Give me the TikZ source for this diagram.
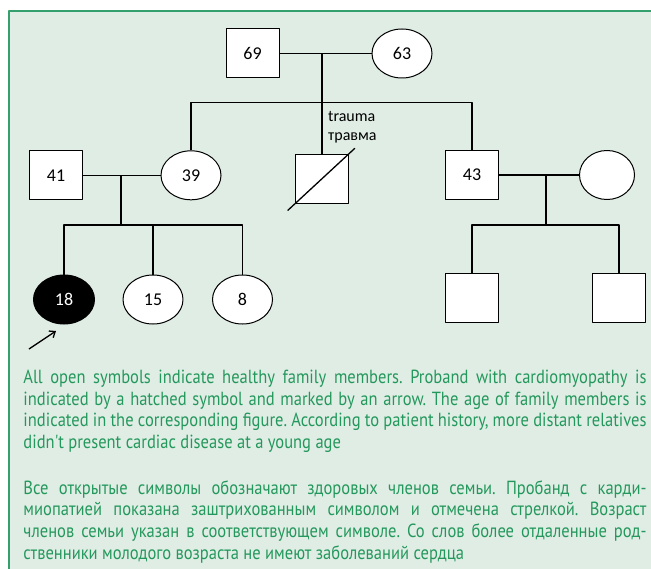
\documentclass[tikz,border=0pt]{standalone}
\usepackage{fontspec}
\setmainfont{Carlito}
\newfontfamily\legendfont[FakeStretch=0.87]{PT Sans}
\usetikzlibrary{shapes.geometric,arrows.meta}
\definecolor{panelfill}{RGB}{224,237,229}
\definecolor{panelrule}{RGB}{52,160,110}
\definecolor{legendcol}{RGB}{36,152,92}
\frenchspacing
\begin{document}
\begin{tikzpicture}[x=1bp,y=-1bp,>={Straight Barb[length=5bp,width=8bp]},line join=bevel,
  male/.style={draw,rectangle,fill=white,line width=1bp,minimum width=53bp,minimum height=49bp,inner sep=0pt,font=\fontsize{18bp}{20bp}\selectfont},
  female/.style={draw,ellipse,fill=white,line width=1bp,minimum width=60bp,minimum height=49bp,inner sep=0pt,font=\fontsize{18bp}{20bp}\selectfont},
  proband/.style={female,fill=black,text=white,minimum width=61bp},
  link/.style={line width=1.3bp},
  note/.style={anchor=base west,inner sep=0pt,font=\fontsize{16bp}{18bp}\selectfont},
  legend/.style={anchor=base west,inner sep=0pt,text width=623bp,align=justify,text=legendcol,
    font=\legendfont\fontsize{19bp}{21.7bp}\selectfont}]
  \useasboundingbox (0,0) rectangle (651,569);
  \clip (0,0) rectangle (651,569);
%%
  % Panel
  \fill[panelfill] (9,11) rectangle (670,590);
  \draw[panelrule,line width=2bp] (9,590) -- (9,11) -- (670,11);
  % Node: n69
  \node[male] (n69) at (252.5,53.5) {69};
  % Node: n63
  \node[female] (n63) at (402,53.5) {63};
  % Node: n39
  \node[female] (n39) at (191,175.3) {39};
  % Node: ntrauma
  \node[male] (ntrauma) at (322,178.7) {};
  % Node: n43
  \node[male] (n43) at (472,175) {43};
  % Node: nwife
  \node[female,minimum width=55bp] (nwife) at (607,175) {};
  % Node: n41
  \node[male] (n41) at (56,175.3) {41};
  % Node: n18
  \node[proband] (n18) at (64,299.5) {18};
  % Node: n15
  \node[female] (n15) at (153,299.5) {15};
  % Node: n8
  \node[female] (n8) at (242.5,299.5) {8};
  % Node: nson1
  \node[male] (nson1) at (472,298) {};
  % Node: nson2
  \node[male] (nson2) at (619,298) {};
  % Coordinates
  \coordinate (u1) at (322,53.5);
  \coordinate (sib1) at (322,102.7);
  \coordinate (u2) at (121,175.3);
  \coordinate (sib2) at (121,225);
  \coordinate (u3) at (546,175);
  \coordinate (sib3) at (546,225);
  \coordinate (ptrtail) at (29,349);
  \coordinate (ptrhead) at (56,331);
  % Edge: n69 -- n63
  \draw[link] (n69) -- (n63);
  % Edge: u1 -> children
  \draw[link] (u1) -- (sib1) -- (ntrauma.north);
  \draw[link] (n39.north) |- (sib1) -| (n43.north);
  % Edge: n41 -- n39
  \draw[link] (n41) -- (n39);
  \draw[link] (u2) -- (sib2);
  \draw[link] (n18.north) |- (sib2) -| (n8.north);
  \draw[link] (n15.north) -- (n15.north |- sib2);
  % Edge: n43 -- nwife
  \draw[link] (n43) -- (nwife);
  \draw[link] (u3) -- (sib3);
  \draw[link] (nson1.north) |- (sib3) -| (nson2.north);
  % Deceased
  \draw[link,shorten <=-10bp,shorten >=-8bp] (ntrauma.south west) -- (ntrauma.north east);
  \node[note] (lbltrauma) at (328,121.5) {trauma};
  \node[note] (lbltravma) at (328,141) {травма};
  % Proband arrow
  \draw[link,->] (ptrtail) -- (ptrhead);
  % Legend
  \node[legend] (legenden) at (23.3,383.3) {All open symbols indicate healthy family members. Proband with cardiomyopathy is\linebreak indicated by a hatched symbol and marked by an arrow. The age of family members is\linebreak indicated in the corresponding figure. According to patient history, more distant relatives\linebreak didn't present cardiac disease at a young age};
  \node[legend] (legendru) at (23.3,494) {Все открытые символы обозначают здоровых членов семьи. Пробанд с карди-\linebreak миопатией показана заштрихованным символом и отмечена стрелкой. Возраст\linebreak членов семьи указан в соответствующем символе. Со слов более отдаленные род-\linebreak ственники молодого возраста не имеют заболеваний сердца};
%
\end{tikzpicture}
\end{document}
